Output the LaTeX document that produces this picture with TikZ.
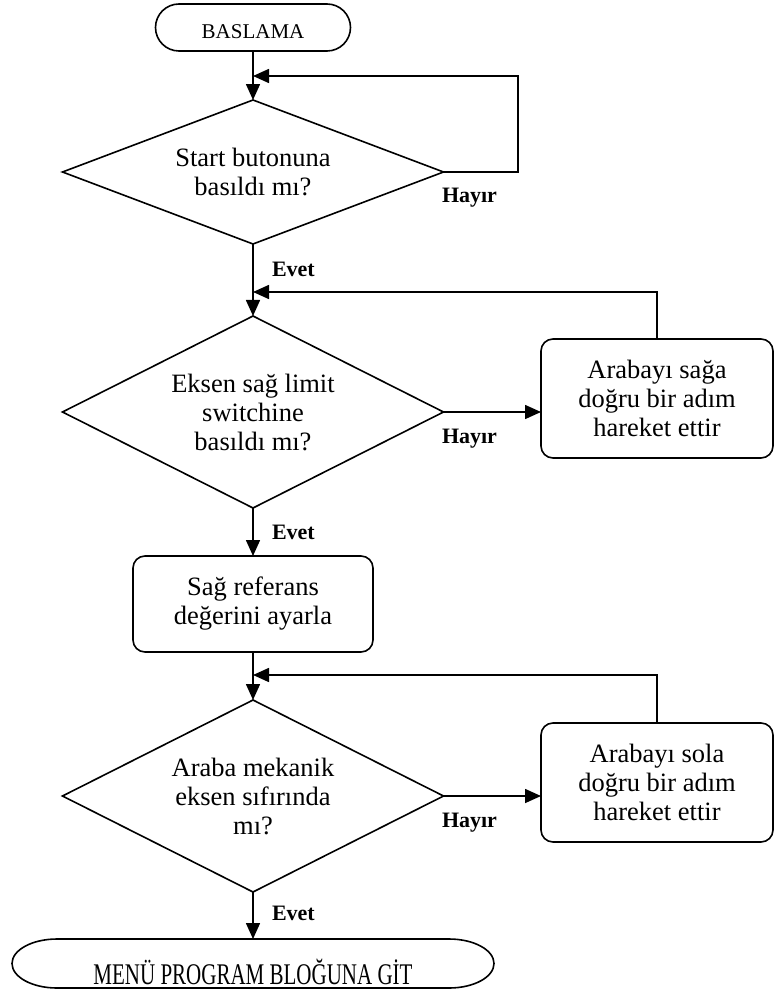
\documentclass[tikz,border=0pt]{standalone}
\usepackage{fontspec}
\usepackage{graphicx}
\setmainfont{Liberation Serif}
\usetikzlibrary{arrows.meta,shapes.geometric,shapes.misc}
\begin{document}
\begin{tikzpicture}[x=1pt,y=-1pt,
  line width=1.6pt,
  every node/.style={inner sep=0pt, outer sep=0pt},
  body/.style={font=\fontsize{26.5}{29}\selectfont, align=center},
  decision/.style={body, draw, diamond, minimum width=381pt},
  process/.style={body, draw, rectangle, rounded corners=12pt},
  terminal/.style={draw, rounded rectangle, font=\fontsize{21}{24}\selectfont},
  lbl/.style={font=\fontsize{22}{24}\selectfont\bfseries, anchor=base west},
  flow/.style={-{Triangle[length=16pt,width=14pt]}},
]
\useasboundingbox (0,0) rectangle (774,992);

% start terminal
\node[terminal, minimum width=195pt, minimum height=47pt,
      text height=22pt, text depth=0pt] (start) at (253,27.5) {BASLAMA};

% decisions
\node[decision, aspect=2.646, minimum height=144pt] (d1) at (253,172)
  {Start butonuna\\basıldı mı?};
\node[decision, aspect=1.984, minimum height=192pt] (d2) at (253,412)
  {Eksen sağ limit\\switchine\\basıldı mı?};
\node[decision, aspect=1.984, minimum height=192pt] (d3) at (253,796)
  {Araba mekanik\\eksen sıfırında\\mı?};

% processes
\node[process, minimum width=232pt, minimum height=119pt] (right) at (657,398.5)
  {Arabayı sağa\\doğru bir adım\\hareket ettir};
\node[process, minimum width=240pt, minimum height=96pt] (ref) at (253,604)
  {Sağ referans\\değerini ayarla};
\node[process, minimum width=232pt, minimum height=119pt] (left) at (657,782.5)
  {Arabayı sola\\doğru bir adım\\hareket ettir};

% end terminal with elliptic ends
\node[minimum width=482pt, minimum height=49pt] (finish) at (253,963.5) {};
\draw ([xshift=45pt]finish.north west) -- ([xshift=-45pt]finish.north east)
  arc[start angle=90, end angle=-90, x radius=45pt, y radius=24.5pt]
  -- ([xshift=45pt]finish.south west)
  arc[start angle=270, end angle=90, x radius=45pt, y radius=24.5pt] -- cycle;
\node[anchor=base, font=\fontsize{30}{32}\selectfont] (finishtext) at (253,984)
  {\scalebox{0.7}[1]{MENÜ PROGRAM BLOĞUNA GİT}};

% junction points of the return lines
\coordinate (j1) at (253,76);
\coordinate (j2) at (253,292);
\coordinate (j3) at (253,675);
\coordinate (c1) at (518,172);

% main flow
\draw[flow] (start) -- (d1);
\draw[flow] (d1) -- (d2);
\draw[flow] (d2) -- (ref);
\draw[flow] (ref) -- (d3);
\draw[flow] (d3.south) -- (finish.north);

% "no" branches
\draw[flow] (d1.east) -- (c1) |- (j1);
\draw[flow] (d2.east) -- (d2.east -| right.west);
\draw[flow] (right.north) |- (j2);
\draw[flow] (d3.east) -- (d3.east -| left.west);
\draw[flow] (left.north) |- (j3);

% labels
\node[lbl] (h1) at (442,203) {Hayır};
\node[lbl] (h2) at (442,443) {Hayır};
\node[lbl] (h3) at (442,827) {Hayır};
\node[lbl] (e1) at (272,276) {Evet};
\node[lbl] (e2) at (272,539) {Evet};
\node[lbl] (e3) at (272,920) {Evet};
\end{tikzpicture}
\end{document}
